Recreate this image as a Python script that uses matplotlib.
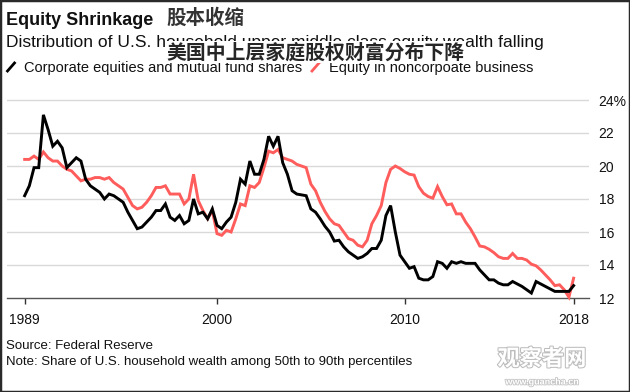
import matplotlib
matplotlib.use("Agg")
import matplotlib.pyplot as plt
import matplotlib.patheffects as pe
from matplotlib.lines import Line2D
from matplotlib.patches import Rectangle
import pandas as pd

# ---------------- data ----------------
quarters = pd.period_range("1989Q3", "2018Q4", freq="Q")

corporate_equities = [
    18.2, 18.8, 19.9, 19.9, 23.1, 22.2, 21.2, 21.5, 21.1, 19.9,
    20.2, 20.5, 20.3, 19.2, 18.8, 18.6, 18.4, 18.0, 18.3, 18.2,
    18.0, 17.8, 17.2, 16.7, 16.2, 16.3, 16.6, 16.9, 17.3, 17.3,
    17.7, 16.9, 16.7, 17.0, 16.5, 16.7, 18.0, 17.1, 17.2, 16.8,
    17.4, 16.4, 16.2, 16.6, 16.9, 17.8, 19.2, 18.9, 20.3, 19.5,
    19.5, 20.4, 21.8, 21.2, 21.8, 20.2, 19.5, 18.5, 18.3, 18.25,
    18.2, 17.4, 17.2, 16.8, 16.35, 16.0, 15.45, 15.5, 15.1, 14.8,
    14.6, 14.4, 14.5, 14.7, 15.0, 15.0, 15.5, 17.0, 17.6, 16.0,
    14.6, 14.2, 13.8, 13.9, 13.2, 13.1, 13.1, 13.3, 14.2, 14.1,
    13.8, 14.2, 14.1, 14.2, 14.1, 14.1, 14.1, 13.7, 13.4, 13.1,
    13.1, 12.9, 12.8, 12.8, 13.0, 12.85, 12.7, 12.5, 12.3, 13.0,
    12.85, 12.7, 12.55, 12.4, 12.4, 12.4, 12.4, 12.75,
]

noncorporate_business = [
    20.4, 20.4, 20.6, 20.4, 20.85, 20.5, 20.3, 20.3, 20.0, 19.8,
    19.7, 19.4, 19.1, 19.2, 19.2, 19.3, 19.3, 19.2, 19.3, 19.0,
    18.8, 18.6, 18.1, 17.6, 17.4, 17.5, 17.8, 18.2, 18.7, 18.7,
    18.8, 18.3, 18.3, 18.3, 17.7, 18.0, 19.5, 17.9, 17.3, 16.8,
    17.3, 15.9, 15.8, 16.1, 16.0, 16.8, 17.7, 17.6, 18.8, 18.7,
    19.0, 19.9, 20.9, 20.8, 21.0, 20.5, 20.4, 20.3, 20.1, 20.0,
    19.9, 18.9, 18.5, 17.8, 17.25, 16.8, 16.5, 16.4, 16.0, 15.6,
    15.5, 15.2, 15.1, 15.5, 16.5, 17.0, 17.6, 19.0, 19.8, 20.0,
    19.85, 19.65, 19.5, 19.45, 18.75, 18.35, 18.15, 18.05, 18.75, 18.15,
    17.65, 17.7, 17.1, 17.1, 16.6, 16.2, 15.7, 15.15, 15.1, 14.95,
    14.75, 14.5, 14.4, 14.4, 14.7, 14.4, 14.4, 14.3, 14.05, 13.95,
    13.7, 13.4, 13.1, 12.75, 12.8, 12.5, 12.05, 13.2,
]

x_tick_labels = ["1989", "2000", "2010", "2018"]
y_ticks = [12, 14, 16, 18, 20, 22, 24]
y_tick_labels = ["12", "14", "16", "18", "20", "22", "24%"]

series_names = ["Corporate equities and mutual fund shares",
                "Equity in noncorpoate business"]

# quarter-end decimal years
x = [p.year + p.quarter / 4.0 for p in quarters]
x_tick_pos = [x[0], 2000.0, 2010.0, x[-1]]

# ---------------- figure ----------------
W, H = 630, 392
fig = plt.figure(figsize=(W / 100, H / 100), dpi=100)
fig.patch.set_facecolor("white")

def fx(px):
    return px / W

def fy(py):
    return 1 - py / H

ax_left, ax_right, ax_bottom_px, ax_top_px = 7, 589, 298, 93.4
ax = fig.add_axes([fx(ax_left), fy(ax_bottom_px), (ax_right - ax_left) / W,
                   (ax_bottom_px - ax_top_px) / H])

BLACK = "#000000"
RED = "#ff5c5c"

ax.plot(x, noncorporate_business, color=RED, lw=2.1, solid_joinstyle="miter",
        clip_on=False, zorder=3)
ax.plot(x, corporate_equities, color=BLACK, lw=2.1, solid_joinstyle="miter",
        clip_on=False, zorder=4)

ax.set_xlim(1988.81, 2019.82)
ax.set_ylim(12, 24.4)

for s in ["top", "left", "right"]:
    ax.spines[s].set_visible(False)
ax.spines["bottom"].set_color("#555555")
ax.spines["bottom"].set_linewidth(1.0)

ax.set_yticks(y_ticks)
ax.set_yticklabels(y_tick_labels)
ax.yaxis.tick_right()
ax.tick_params(axis="y", length=0, pad=7, labelsize=10, labelcolor="#111111")
for yv in y_ticks[1:]:
    ax.axhline(yv, color="#d9d9d9", lw=1.0, zorder=1)

ax.set_xticks(x_tick_pos)
ax.set_xticklabels(x_tick_labels)
ax.tick_params(axis="x", length=4, width=1, color="#333333", pad=7,
               labelsize=10, labelcolor="#111111")

for lab in ax.get_xticklabels() + ax.get_yticklabels():
    lab.set_fontfamily("Liberation Sans")

# ---------------- texts ----------------
fig.text(fx(6), fy(25), "Equity Shrinkage", fontfamily="Liberation Sans",
         fontweight="bold", fontsize=13, color="#111111", va="baseline")
fig.text(fx(166), fy(18), "股本收缩", fontfamily=["Noto Sans CJK SC", "DejaVu Sans"],
         fontweight="bold", fontsize=14, color="#333333", va="center")

fig.text(fx(6), fy(47), "Distribution of U.S. household upper middle class equity wealth falling",
         fontfamily="Liberation Sans", fontsize=12.5, color="#111111", va="baseline")

# legend
fig.add_artist(Line2D([fx(7.5), fx(14.5)], [fy(71), fy(63)], color=BLACK, lw=2))
fig.text(fx(24), fy(72), series_names[0], fontfamily="Liberation Sans",
         fontsize=10.5, color="#111111", va="baseline")
fig.add_artist(Line2D([fx(312), fx(319)], [fy(71), fy(63)], color=RED, lw=2))
fig.text(fx(329), fy(72), series_names[1], fontfamily="Liberation Sans",
         fontsize=10.5, color="#111111", va="baseline")

# overlay Chinese subtitle
fig.text(fx(166), fy(52), "美国中上层家庭股权财富分布下降",
         fontfamily=["Noto Sans CJK SC", "DejaVu Sans"], fontweight="bold",
         fontsize=14.3, color="#262626", va="center", zorder=10,
         bbox=dict(facecolor="white", edgecolor="none", pad=0.3))

# footer
fig.text(fx(6), fy(349), "Source: Federal Reserve", fontfamily="Liberation Sans",
         fontsize=9.5, color="#111111", va="baseline")
fig.text(fx(6), fy(365), "Note: Share of U.S. household wealth among 50th to 90th percentiles",
         fontfamily="Liberation Sans", fontsize=9.5, color="#111111", va="baseline")

# watermark
fig.text(fx(542), fy(359), "观察者网", fontfamily=["Noto Sans CJK SC", "DejaVu Sans"],
         fontweight="bold", fontsize=16, color="white", ha="center", va="center",
         path_effects=[pe.withStroke(linewidth=1.5, foreground="#bdbdbd")])
fig.text(fx(542), fy(382), "www.guancha.cn", fontfamily="Liberation Sans",
         fontweight="bold", fontsize=6.5, color="white", ha="center", va="center",
         path_effects=[pe.withStroke(linewidth=1.2, foreground="#c4c4c4")])

# frame
fig.add_artist(Rectangle((0, 0), 1, 1, transform=fig.transFigure, fill=False,
                         edgecolor="#2a2a2a", lw=2.5))

fig.savefig("out.png", dpi=100, facecolor="white")
